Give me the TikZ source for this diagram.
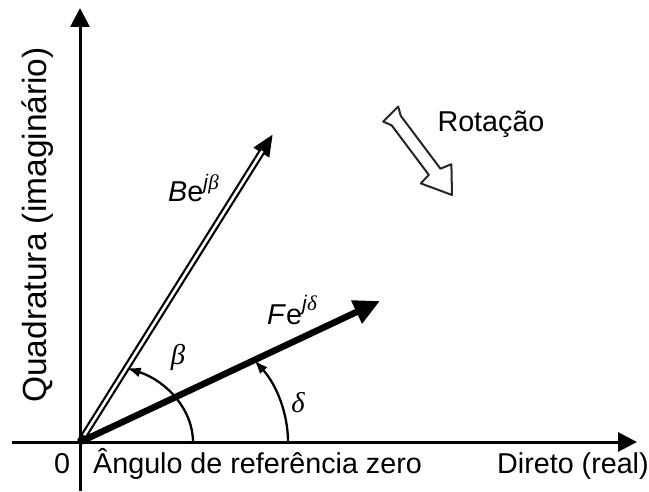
\documentclass[tikz,border=0pt]{standalone}
\usepackage{fontspec}
\setmainfont{Liberation Sans}
\newfontfamily\greekfont{Liberation Serif}
\usetikzlibrary{arrows.meta}
\newcommand{\grk}[1]{{\greekfont\itshape #1}}
\newcommand{\supj}[2]{\raisebox{#2}{\fontsize{21}{22}\selectfont\textit{j}\grk{#1}}}
\begin{document}
\begin{tikzpicture}[x=1pt,y=1pt,
  lbl/.style={font=\fontsize{28.7}{34}\selectfont, inner sep=0pt},
  axisline/.style={line width=3pt, -{Triangle[length=19pt,width=19pt]}},
  angarc/.style={line width=2.3pt, -{Latex[length=14pt,width=10pt]}},
  rotarrow/.style={draw=black!85, fill=white, line width=2pt, line join=round}
]
\useasboundingbox (0,0) rectangle (649,491);
% key points
\coordinate (O) at (80,49);
\coordinate (Ytop) at (80,483);
\coordinate (Ybot) at (80,0);
\coordinate (Xleft) at (12,49);
\coordinate (Xright) at (637,49);
\coordinate (Btip) at (273,357);
\coordinate (Ftip) at (380,190);
\coordinate (Bstart) at (193,49);
\coordinate (Dstart) at (288,49);
% axes
\draw[axisline] (Ybot) -- (Ytop);
\draw[axisline] (Xleft) -- (Xright);
% B vector (double line)
\draw[line width=7pt, -{Triangle[length=22pt,width=17pt]}] (O) -- (Btip);
\draw[white, line width=2.6pt, shorten >=20pt, shorten <=8pt] (O) -- (Btip);
% F vector
\draw[line width=6.5pt, -{Triangle[length=26pt,width=24pt]}] (O) -- (Ftip);
% angle arcs
\draw[angarc] (Bstart) arc[start angle=0, end angle=65.6, x radius=113, y radius=81.3];
\draw[angarc] (Dstart) arc[start angle=0, end angle=33.1, x radius=208, y radius=150];
% labels
\node[lbl] (beta) at (178,134) {\grk{β}};
\node[lbl] (delta) at (298,88) {\grk{δ}};
\node[lbl, anchor=base west] (Blabel) at (168,289) {\textit{B}e\supj{β}{12pt}};
\node[lbl, anchor=base west] (Flabel) at (267,166) {\textit{F}e\supj{δ}{14pt}};
\node[lbl] (rot) at (491,367) {Rotação};
\node[lbl, anchor=base] (zero) at (62,18) {0};
\node[lbl, anchor=base west] (ref) at (93,18) {Ângulo de referência zero};
\node[lbl, anchor=base west] (real) at (497,18) {Direto (real)};
\node[lbl, font=\fontsize{33.5}{38}\selectfont, rotate=90] (imag) at (38,266) {Quadratura (imaginário)};
% rotation arrow
\begin{scope}[shift={(392,376)}, rotate=-53.13]
\draw[rotarrow] (0,-11) -- (-3,10) -- (6,6.5) -- (72,6.5) -- (75,18) -- (100,0)
  -- (72,-18) -- (70,-6.5) -- (8,-6.5) -- cycle;
\end{scope}
\end{tikzpicture}
\end{document}
